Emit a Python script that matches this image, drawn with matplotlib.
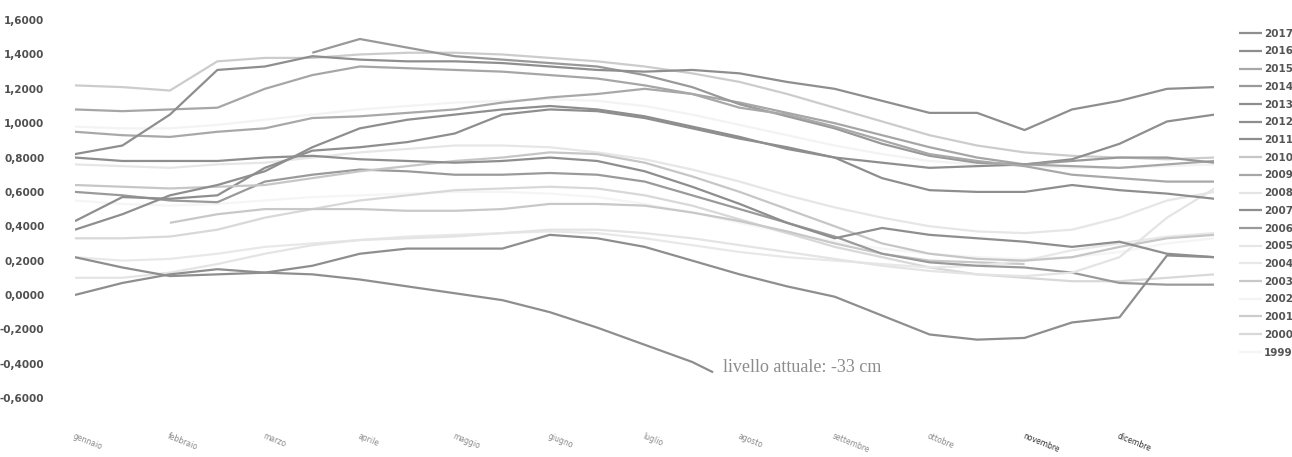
from __future__ import annotations

import numpy as np
import matplotlib.pyplot as plt
from matplotlib.ticker import FixedLocator, FuncFormatter

# x positions: start of each half month (0 = 1 gennaio, 12 = 31 dicembre)
half_months = np.arange(25) / 2

month_names = [
    "gennaio", "febbraio", "marzo", "aprile", "maggio", "giugno",
    "luglio", "agosto", "settembre", "ottobre", "novembre", "dicembre",
]

nan = np.nan

# current year stops early, so it has its own x values
x_2017 = list(half_months[:14]) + [6.72]
lvl_2017 = [0.22, 0.16, 0.11, 0.12, 0.13, 0.12, 0.09, 0.05, 0.01, -0.03,
            -0.10, -0.19, -0.29, -0.39, -0.45]

lvl_2016 = [0.82, 0.87, 1.05, 1.31, 1.33, 1.39, 1.37, 1.36, 1.36, 1.35, 1.33, 1.31, 1.30,
            1.31, 1.29, 1.24, 1.20, 1.13, 1.06, 1.06, 0.96, 1.08, 1.13, 1.20, 1.21]
lvl_2015 = [0.95, 0.93, 0.92, 0.95, 0.97, 1.03, 1.04, 1.06, 1.08, 1.12, 1.15, 1.17, 1.20,
            1.17, 1.09, 1.05, 0.98, 0.90, 0.82, 0.78, 0.75, 0.70, 0.68, 0.66, 0.66]
lvl_2014 = [nan, nan, nan, nan, nan, 1.41, 1.49, 1.44, 1.39, 1.37, 1.35, 1.33, 1.28,
            1.21, 1.11, 1.04, 0.97, 0.88, 0.81, 0.77, 0.76, 0.78, 0.80, 0.80, 0.77]
lvl_2013 = [0.38, 0.47, 0.58, 0.64, 0.72, 0.86, 0.97, 1.02, 1.05, 1.08, 1.10, 1.08, 1.04,
            0.98, 0.92, 0.85, 0.80, 0.68, 0.61, 0.60, 0.60, 0.64, 0.61, 0.59, 0.56]
lvl_2012 = [0.80, 0.78, 0.78, 0.78, 0.80, 0.81, 0.79, 0.78, 0.77, 0.78, 0.80, 0.78, 0.72,
            0.63, 0.53, 0.42, 0.33, 0.39, 0.35, 0.33, 0.31, 0.28, 0.31, 0.24, 0.22]
lvl_2011 = [0.00, 0.07, 0.12, 0.15, 0.13, 0.17, 0.24, 0.27, 0.27, 0.27, 0.35, 0.33, 0.28,
            0.20, 0.12, 0.05, -0.01, -0.12, -0.23, -0.26, -0.25, -0.16, -0.13, 0.23, 0.22]
lvl_2010 = [0.64, 0.63, 0.62, 0.63, 0.64, 0.68, 0.72, 0.75, 0.78, 0.80, 0.83, 0.82, 0.77,
            0.69, 0.60, 0.50, 0.40, 0.30, 0.24, 0.21, 0.20, 0.22, 0.28, 0.33, 0.35]
lvl_2009 = [1.08, 1.07, 1.08, 1.09, 1.20, 1.28, 1.33, 1.32, 1.31, 1.30, 1.28, 1.26, 1.22,
            1.17, 1.12, 1.06, 1.00, 0.93, 0.86, 0.80, 0.76, 0.75, 0.74, 0.76, 0.78]
lvl_2008 = [0.10, 0.10, 0.13, 0.18, 0.24, 0.29, 0.32, 0.33, 0.34, 0.36, 0.38, 0.38, 0.36,
            0.33, 0.29, 0.25, 0.21, 0.17, 0.14, 0.12, 0.11, 0.13, 0.22, 0.45, 0.62]
lvl_2007 = [0.43, 0.57, 0.56, 0.58, 0.74, 0.84, 0.86, 0.89, 0.94, 1.05, 1.08, 1.07, 1.03,
            0.97, 0.91, 0.86, 0.80, 0.77, 0.74, 0.75, 0.76, 0.79, 0.88, 1.01, 1.05]
lvl_2006 = [0.60, 0.58, 0.55, 0.54, 0.66, 0.70, 0.73, 0.72, 0.70, 0.70, 0.71, 0.70, 0.66,
            0.58, 0.50, 0.42, 0.34, 0.24, 0.19, 0.17, 0.16, 0.13, 0.07, 0.06, 0.06]
lvl_2005 = [0.76, 0.75, 0.74, 0.76, 0.77, 0.80, 0.83, 0.85, 0.87, 0.87, 0.86, 0.83, 0.79,
            0.73, 0.66, 0.58, 0.51, 0.45, 0.40, 0.37, 0.36, 0.38, 0.45, 0.55, 0.60]
lvl_2004 = [0.22, 0.20, 0.21, 0.24, 0.28, 0.30, 0.32, 0.34, 0.35, 0.36, 0.37, 0.36, 0.33,
            0.29, 0.25, 0.22, 0.20, 0.18, 0.16, 0.17, 0.20, 0.26, 0.30, 0.34, 0.36]
lvl_2003 = [nan, nan, 0.42, 0.47, 0.50, 0.50, 0.50, 0.49, 0.49, 0.50, 0.53, 0.53, 0.52,
            0.48, 0.43, 0.37, 0.30, 0.24, 0.20, 0.19, 0.18, nan, nan, nan, nan]
lvl_2002 = [0.98, 0.97, 0.97, 0.99, 1.02, 1.05, 1.08, 1.10, 1.12, 1.13, 1.14, 1.13, 1.10,
            1.05, 0.99, 0.93, 0.87, 0.82, 0.78, 0.76, 0.75, 0.74, 0.74, 0.75, 0.76]
lvl_2001 = [1.22, 1.21, 1.19, 1.36, 1.38, 1.38, 1.40, 1.41, 1.41, 1.40, 1.38, 1.36, 1.33,
            1.29, 1.24, 1.17, 1.09, 1.01, 0.93, 0.87, 0.83, 0.81, 0.80, 0.79, 0.80]
lvl_2000 = [0.33, 0.33, 0.34, 0.38, 0.45, 0.50, 0.55, 0.58, 0.61, 0.62, 0.63, 0.62, 0.58,
            0.52, 0.44, 0.36, 0.28, 0.22, 0.16, 0.12, 0.10, 0.08, 0.08, 0.10, 0.12]
lvl_1999 = [0.55, 0.53, 0.52, 0.53, 0.55, 0.57, 0.58, 0.59, 0.60, 0.60, 0.59, 0.57, 0.53,
            0.48, 0.42, 0.36, 0.31, 0.27, 0.24, 0.22, 0.21, 0.22, 0.25, 0.30, 0.33]

years = ["2017", "2016", "2015", "2014", "2013", "2012", "2011", "2010", "2009", "2008",
         "2007", "2006", "2005", "2004", "2003", "2002", "2001", "2000", "1999"]

levels = {
    "2016": lvl_2016, "2015": lvl_2015, "2014": lvl_2014, "2013": lvl_2013,
    "2012": lvl_2012, "2011": lvl_2011, "2010": lvl_2010, "2009": lvl_2009,
    "2008": lvl_2008, "2007": lvl_2007, "2006": lvl_2006, "2005": lvl_2005,
    "2004": lvl_2004, "2003": lvl_2003, "2002": lvl_2002, "2001": lvl_2001,
    "2000": lvl_2000, "1999": lvl_1999,
}

line_colors = {
    "2017": "#8e8e8e", "2016": "#8e8e8e", "2015": "#a8a8a8", "2014": "#999999",
    "2013": "#8e8e8e", "2012": "#8e8e8e", "2011": "#8e8e8e", "2010": "#c6c6c6",
    "2009": "#a6a6a6", "2008": "#e4e4e4", "2007": "#8e8e8e", "2006": "#9a9a9a",
    "2005": "#e6e6e6", "2004": "#e8e8e8", "2003": "#c8c8c8", "2002": "#f3f3f3",
    "2001": "#cccccc", "2000": "#d8d8d8", "1999": "#f5f5f5",
}

label_font = ["Liberation Sans Narrow", "DejaVu Sans"]


def level_label(v, pos):
    return f"{v:.4f}".replace(".", ",")


fig = plt.figure(figsize=(12.92, 4.57), dpi=100)
ax = fig.add_axes([0.058, 0.129, 0.882, 0.827])

# oldest first so the darker recent years sit on top
for year in years[::-1]:
    if year == "2017":
        x, y = x_2017, lvl_2017
    else:
        x, y = half_months, levels[year]
    ax.plot(x, y, color=line_colors[year], lw=1.6, label=year,
            solid_capstyle="butt")

ax.text(x_2017[-1] + 0.1, -0.425, "livello attuale: -33 cm",
        family="Liberation Serif", fontsize=13, color="#8c8c8c",
        ha="left", va="center")

ax.set_xlim(0, 12)
ax.set_ylim(-0.6, 1.6)
ax.yaxis.set_major_locator(FixedLocator(np.linspace(-0.6, 1.6, 12)))
ax.yaxis.set_major_formatter(FuncFormatter(level_label))
ax.set_xticks(np.arange(12))
ax.set_xticklabels(month_names)

for side in ["top", "right", "bottom", "left"]:
    ax.spines[side].set_visible(False)
ax.tick_params(axis="y", length=0, pad=22)
ax.tick_params(axis="x", length=0, pad=24)

for lab in ax.get_yticklabels():
    lab.set_family(label_font)
    lab.set_fontsize(7.5)
    lab.set_fontweight("bold")
    lab.set_color("#4f4f4f")

month_colors = ["#8a8a8a"] * 10 + ["#333333", "#333333"]
for lab, c in zip(ax.get_xticklabels(), month_colors):
    lab.set_family(label_font)
    lab.set_fontsize(5.5)
    lab.set_rotation(-22)
    lab.set_rotation_mode("anchor")
    lab.set_ha("left")
    lab.set_va("top")
    lab.set_color(c)

handles, labels = ax.get_legend_handles_labels()
order = [labels.index(y) for y in years]
leg = ax.legend(
    [handles[i] for i in order], [labels[i] for i in order],
    loc="upper left", bbox_to_anchor=(0.959, 0.937),
    bbox_transform=fig.transFigure, frameon=False,
    borderpad=0, borderaxespad=0, handlelength=2.2, handletextpad=0.2,
    labelspacing=0.74, prop={"family": label_font, "size": 7.5, "weight": "bold"},
)
for t in leg.get_texts():
    t.set_color("#555555")

fig.savefig("out.png", dpi=100, facecolor="white")
